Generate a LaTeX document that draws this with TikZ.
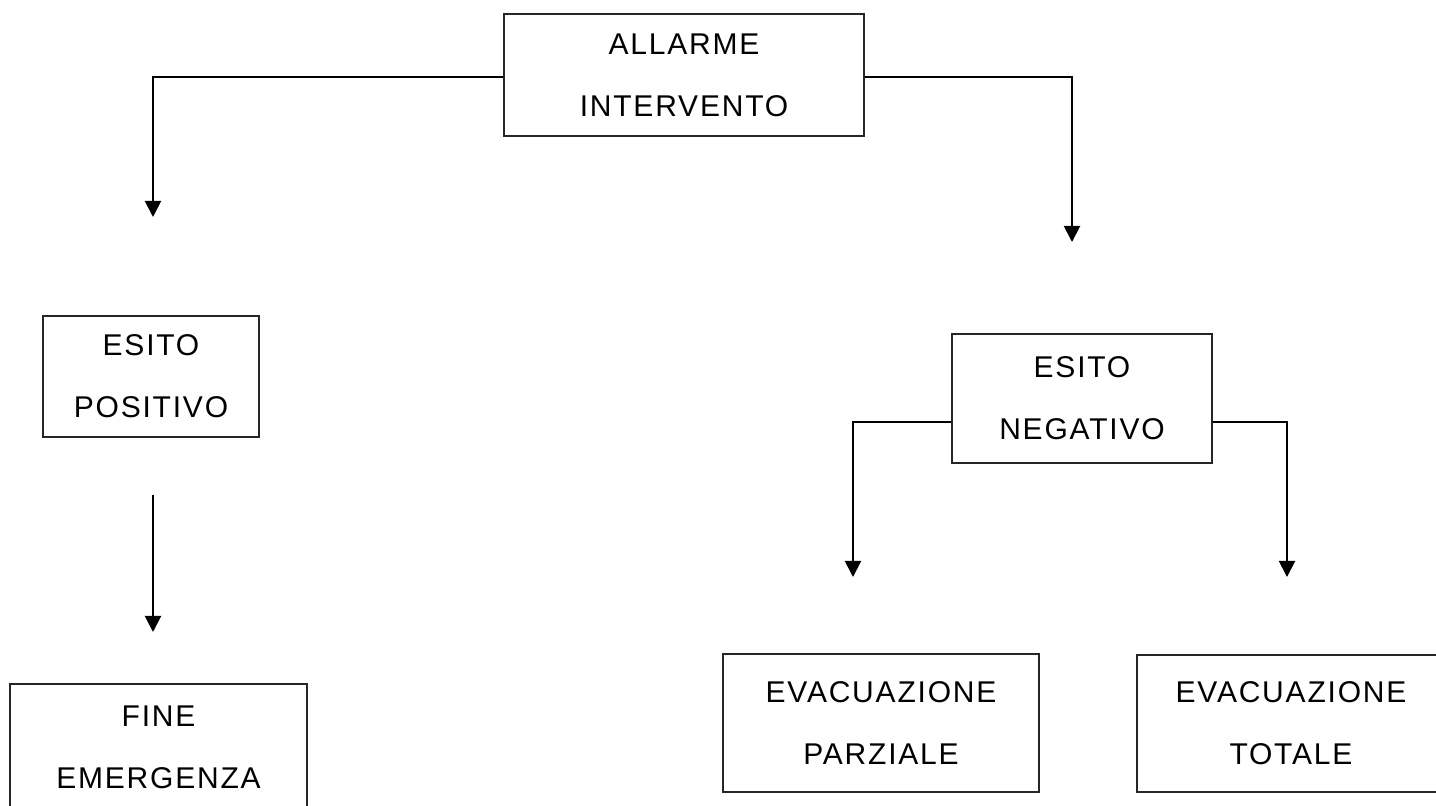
\documentclass[tikz,border=0pt]{standalone}
\usepackage{fontspec}
\setmainfont{Liberation Sans}[LetterSpace=6]
\usetikzlibrary{arrows.meta}
\begin{document}
\begin{tikzpicture}[x=0.5pt,y=-0.5pt,
  box/.style={draw=black!85, line width=0.65pt, align=center, inner sep=0pt,
    font=\fontsize{15}{31}\selectfont},
  conn/.style={line width=1pt, -{Triangle[width=8pt,length=8pt]}}]
\useasboundingbox (0,0) rectangle (1436,806);
\clip (0,0) rectangle (1436,806);

\node[box, minimum width=180pt, minimum height=61pt] (allarme) at (684,75) {ALLARME\\INTERVENTO};
\node[box, minimum width=108pt, minimum height=60.5pt] (positivo) at (151,376.5) {ESITO\\POSITIVO};
\node[box, minimum width=148.5pt, minimum height=63.5pt] (fine) at (158.5,747.5) {FINE\\EMERGENZA};
\node[box, minimum width=130pt, minimum height=64.5pt] (negativo) at (1082,398.5) {ESITO\\NEGATIVO};
\node[box, minimum width=158pt, minimum height=69pt] (parziale) at (881,723) {EVACUAZIONE\\PARZIALE};
\node[box, minimum width=154pt, minimum height=68.5pt] (totale) at (1291,723.5) {EVACUAZIONE\\TOTALE};

\coordinate (a1) at (153,217);
\coordinate (a2) at (1072,242);
\coordinate (p1) at (153,495);
\coordinate (p2) at (153,632);
\coordinate (n1) at (853,577);
\coordinate (n2) at (1287,577);

\draw[conn] ([yshift=-1pt]allarme.west) -| (a1);
\draw[conn] ([yshift=-1pt]allarme.east) -| (a2);
\draw[conn] (p1) -- (p2);
\draw[conn] ([yshift=-11.75pt]negativo.west) -| (n1);
\draw[conn] ([yshift=-11.75pt]negativo.east) -| (n2);
\end{tikzpicture}
\end{document}
